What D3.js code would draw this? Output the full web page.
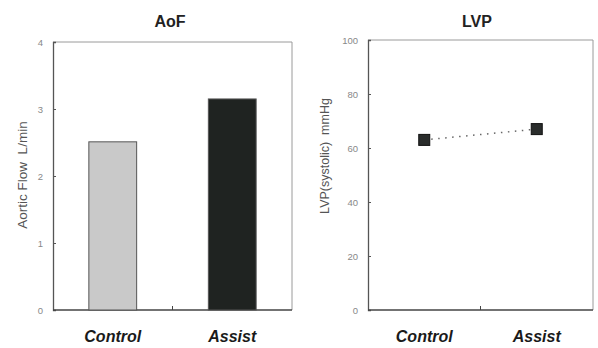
<!DOCTYPE html>
<html><head><meta charset="utf-8">
<script src="https://cdn.jsdelivr.net/npm/d3@7"></script>
<style>body{margin:0;background:#fff}svg{display:block}</style>
</head><body>
<svg id="c" width="598" height="348"></svg>
<script>
const categories = ["Control", "Assist"];
const aofValues = [2.51, 3.15];
const lvpValues = [63, 67];
const aofTicks = [0, 1, 2, 3, 4];
const lvpTicks = [0, 20, 40, 60, 80, 100];

const svg = d3.select("#c");
const font = "'Liberation Sans', Arial, sans-serif";

function panel(opts) {
  const g = svg.append("g");
  const x = d3.scaleBand().domain(categories).range([opts.left, opts.right]);
  const y = d3.scaleLinear().domain(opts.domain).range([opts.bottom, opts.top]);
  g.append("path")
    .attr("d", `M${opts.left},${opts.top}H${opts.right}V${opts.bottom}`)
    .attr("fill", "none").attr("stroke", "#9a9a9a").attr("stroke-width", 1);
  const ya = d3.axisLeft(y).tickValues(opts.ticks).tickFormat(d3.format("d")).tickSize(-3).tickPadding(10);
  const yg = g.append("g").attr("transform", `translate(${opts.left},0)`).call(ya);
  yg.select(".domain").attr("stroke", "#555").attr("stroke-width", 1.3);
  yg.selectAll(".tick line").attr("stroke", "#555");
  yg.selectAll("text").attr("font-family", font).attr("font-size", 9.5).attr("fill", "#888");
  const xg = g.append("g").attr("transform", `translate(0,${opts.bottom})`);
  xg.append("line").attr("x1", opts.left).attr("x2", opts.right)
    .attr("stroke", "#444").attr("stroke-width", 1.5);
  xg.append("line").attr("x1", x("Assist")).attr("x2", x("Assist"))
    .attr("y1", 0).attr("y2", -4).attr("stroke", "#444");
  xg.selectAll("text.cat").data(categories).join("text").attr("class", "cat")
    .attr("x", d => x(d) + x.bandwidth() / 2).attr("y", 32)
    .attr("text-anchor", "middle").attr("font-family", font)
    .attr("font-size", 16).attr("font-weight", "bold").attr("font-style", "italic")
    .attr("fill", "#1a1a1a").text(d => d);
  g.append("text").attr("x", opts.titleX).attr("y", 26.5).attr("text-anchor", "middle")
    .attr("font-family", font).attr("font-size", 16).attr("font-weight", "bold")
    .attr("fill", "#222").text(opts.title);
  g.append("text").attr("transform", `translate(${opts.labelX},${opts.labelY}) rotate(-90)`)
    .attr("text-anchor", "middle").attr("font-family", font).attr("font-size", opts.labelSize)
    .attr("fill", "#555").attr("xml:space", "preserve").text(opts.ylabel);
  return {g, x, y};
}

const L = panel({left: 53, right: 292, top: 42, bottom: 310, domain: [0, 4], ticks: aofTicks,
  title: "AoF", titleX: 170, ylabel: "Aortic Flow  L/min", labelX: 27, labelY: 175, labelSize: 13.5});
const barW = L.x.bandwidth() * 0.4;
const fills = ["#c9c9c9", "#1f2321"];
L.g.selectAll("rect.bar").data(aofValues).join("rect").attr("class", "bar")
  .attr("x", (d, i) => L.x(categories[i]) + L.x.bandwidth() / 2 - barW / 2)
  .attr("y", d => L.y(d)).attr("width", barW).attr("height", d => L.y(0) - L.y(d))
  .attr("fill", (d, i) => fills[i]).attr("stroke", "#555").attr("stroke-width", 1);

const R = panel({left: 368, right: 593, top: 40, bottom: 310, domain: [0, 100], ticks: lvpTicks,
  title: "LVP", titleX: 477, ylabel: "LVP(systolic)  mmHg", labelX: 329, labelY: 156, labelSize: 12.5});
const cx = (d, i) => R.x(categories[i]) + R.x.bandwidth() / 2;
const line = d3.line().x((d, i) => cx(d, i)).y(d => R.y(d));
R.g.append("path").datum(lvpValues).attr("d", line).attr("fill", "none")
  .attr("stroke", "#666").attr("stroke-width", 1.5).attr("stroke-dasharray", "1.5,5.5");
const sz = 11;
R.g.selectAll("rect.pt").data(lvpValues).join("rect").attr("class", "pt")
  .attr("x", (d, i) => cx(d, i) - sz / 2).attr("y", d => R.y(d) - sz / 2)
  .attr("width", sz).attr("height", sz).attr("fill", "#2a2d2c").attr("stroke", "#111");
</script>
</body></html>
